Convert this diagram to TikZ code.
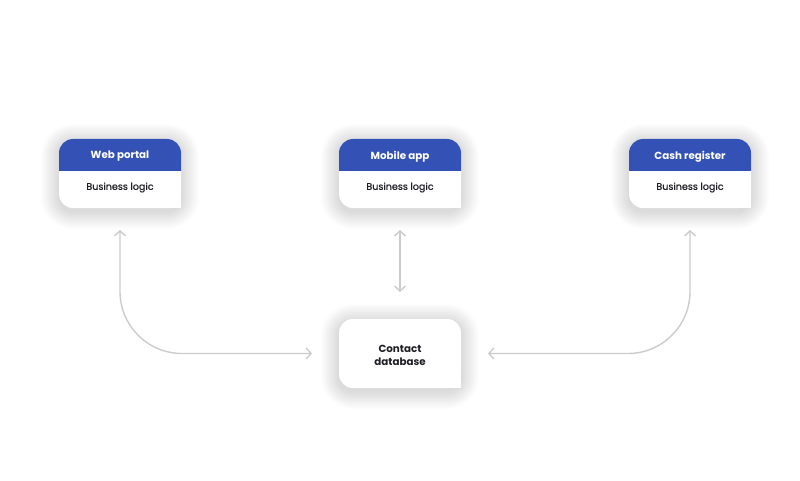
\documentclass[tikz,border=0pt]{standalone}
\usepackage{fontspec}
\setmainfont{Poppins}
\newfontfamily\medfont[FakeBold=0.6]{Poppins}
\usepackage{tikz}
\usetikzlibrary{arrows.meta}
\definecolor{head}{HTML}{3452B6}
\definecolor{ink}{HTML}{1E1E24}
\definecolor{wire}{HTML}{CCCCCC}
\tikzset{
  card/.style={rectangle, minimum width=122pt, minimum height=69pt, inner sep=0pt, outer sep=0pt},
  haze/.style={fill=black, opacity=0.0065},
  title/.style={text=white, font=\fontsize{10.3}{12}\selectfont\bfseries},
  body/.style={text=ink, font=\fontsize{9.6}{13}\selectfont\medfont, align=center},
  link/.style={draw=wire, line width=1.4pt, {Straight Barb[length=5pt,width=11pt]}-{Straight Barb[length=5pt,width=11pt]}}
}
\begin{document}
\begin{tikzpicture}[x=1pt,y=1pt]
  \useasboundingbox[fill=white] (0,0) rectangle (800,480);
  \node[card] (web) at (120,306.5) {};
  \node[card] (app) at (400,306.5) {};
  \node[card] (cash) at (690,306.5) {};
  \node[card] (db) at (400,126.5) {};
  \foreach \n in {web,app,cash,db}{
    \foreach \k in {1,...,18}
      \fill[haze, rounded corners=14pt+\k pt] ([shift={(-\k,-\k-3)}]\n.south west) rectangle ([shift={(\k,\k-3)}]\n.north east);
    \fill[white, rounded corners=14pt] (\n.south west) rectangle (\n.north east);
    \fill[white] (\n.south east) rectangle ++(-14,14);
  }
  \foreach \n/\t in {web/Web portal, app/Mobile app, cash/Cash register}{
    \fill[head] ([yshift=-32]\n.north west) -- ([yshift=-14]\n.north west) arc[start angle=180, end angle=90, radius=14]
      -- ([xshift=-14]\n.north east) arc[start angle=90, end angle=0, radius=14] -- ([yshift=-32]\n.north east) -- cycle;
    \node[title] (\n-t) at ([yshift=-17.5]\n.north) {\t};
    \node[body] (\n-b) at ([yshift=-48.5]\n.north) {Business logic};
  }
  \node[body, font=\fontsize{10.3}{13}\selectfont\bfseries] (db-t) at ([yshift=-2]db.center) {Contact\\database};
  \draw[link, rounded corners=62pt] ([yshift=-22]web.south) |- ([xshift=-27]db.west);
  \draw[link] ([yshift=-22]app.south) -- ([yshift=27]db.north);
  \draw[link, rounded corners=62pt] ([yshift=-22]cash.south) |- ([xshift=27]db.east);
\end{tikzpicture}
\end{document}
